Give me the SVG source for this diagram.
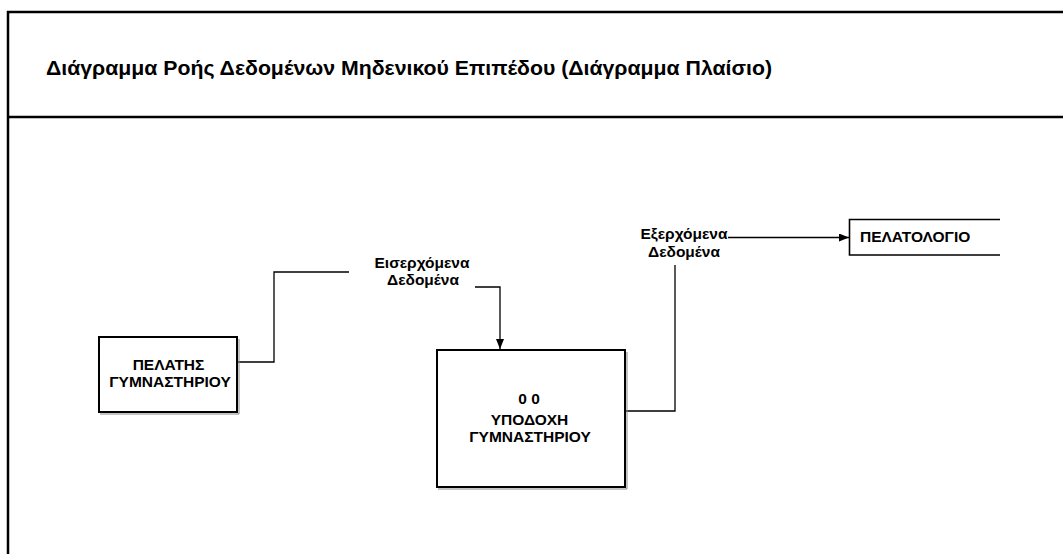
<svg xmlns="http://www.w3.org/2000/svg" width="1063" height="554" viewBox="0 0 1063 554">
  <style>
    .frame { fill: none; stroke: #000; stroke-width: 2.5; }
    .box { fill: #fff; stroke: #000; stroke-width: 2; }
    .shadow { fill: none; stroke: #888; stroke-width: 1; }
    .store { fill: none; stroke: #000; stroke-width: 1.6; }
    .flow { fill: none; stroke: #000; stroke-width: 1.3; }
    .title { font-family: "Liberation Sans", Arial, sans-serif; font-weight: bold; font-size: 20px; fill: #000; }
    .lbl { font-family: "Liberation Sans", Arial, sans-serif; font-weight: bold; font-size: 15.5px; fill: #000; text-anchor: middle; }
  </style>
  <defs>
    <marker id="arrow" viewBox="0 0 10 8" refX="10" refY="4" markerWidth="10" markerHeight="8" markerUnits="userSpaceOnUse" orient="auto">
      <path d="M0,0 L10,4 L0,8 Z" fill="#000"/>
    </marker>
  </defs>
  <rect width="1063" height="554" fill="#fff"/>

  <!-- outer frame with header band (open on the right) -->
  <g id="frame">
    <path class="frame" d="M1063,12 H8 V554"/>
    <path class="frame" d="M8,117 H1063"/>
    <text class="title" x="46" y="75" textLength="726" lengthAdjust="spacingAndGlyphs">Διάγραμμα Ροής Δεδομένων Μηδενικού Επιπέδου (Διάγραμμα Πλαίσιο)</text>
  </g>

  <!-- data flows -->
  <g id="connectors">
    <path class="flow" d="M237,362 H274 V272 H349"/>
    <path class="flow" d="M475,287 H500 V349" marker-end="url(#arrow)"/>
    <path class="flow" d="M625,411 H675 V265" stroke="#333"/>
    <path class="flow" d="M728,237.5 H849" marker-end="url(#arrow)"/>
    <text class="lbl" x="422" y="267.5">Εισερχόμενα</text>
    <text class="lbl" x="423" y="285">Δεδομένα</text>
    <text class="lbl" x="684" y="239">Εξερχόμενα</text>
    <text class="lbl" x="684" y="257">Δεδομένα</text>
  </g>

  <!-- external entity -->
  <g id="customer">
    <path class="shadow" d="M100,414 H239 V339"/>
    <rect class="box" x="99" y="337" width="138" height="75"/>
    <text class="lbl" x="168.5" y="370">ΠΕΛΑΤΗΣ</text>
    <text class="lbl" x="170" y="387">ΓΥΜΝΑΣΤΗΡΙΟΥ</text>
  </g>

  <!-- process 0 -->
  <g id="process">
    <path class="shadow" d="M438,489 H627 V352"/>
    <rect class="box" x="437" y="350" width="188" height="137"/>
    <text class="lbl" x="529" y="404">0 0</text>
    <text class="lbl" x="529.5" y="425">ΥΠΟΔΟΧΗ</text>
    <text class="lbl" x="530" y="442">ΓΥΜΝΑΣΤΗΡΙΟΥ</text>
  </g>

  <!-- data store -->
  <g id="store">
    <path class="store" d="M1000,219.5 H849.5 V255 H1000"/>
    <text class="lbl" x="860" y="242" style="text-anchor:start">ΠΕΛΑΤΟΛΟΓΙΟ</text>
  </g>
</svg>
